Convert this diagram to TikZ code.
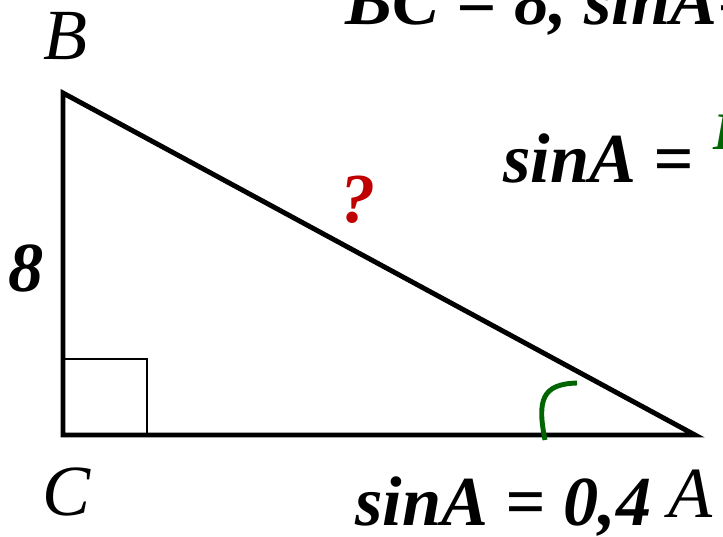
\documentclass[tikz,border=0pt]{standalone}
\usepackage{fontspec}
\setmainfont{Liberation Serif}
\usepackage{tikz}
\usetikzlibrary{positioning, calc}
\definecolor{qred}{HTML}{C00000}
\definecolor{anglegreen}{HTML}{006400}
\tikzset{
  % Triangle sides
  side/.style={line width=2.8pt, line join=miter, line cap=butt},
  % Vertex letters
  vertex/.style={font=\fontsize{41}{44}\selectfont\itshape, inner sep=0pt},
  % Formula texts
  formula/.style={font=\fontsize{40}{44}\selectfont\bfseries\itshape, inner sep=0pt, anchor=base west},
  % Angle mark
  anglemark/.style={draw=anglegreen, line width=2.8pt},
}

\begin{document}
\begin{tikzpicture}[x=0.02cm, y=-0.02cm]

  \useasboundingbox (0,0) rectangle (723,537);
  \clip (0,0) rectangle (723,537);

  % Vertices
  \coordinate (C) at (63, 435);
  \coordinate (B) at (63, 93);
  \coordinate (A) at (695, 435);

  % Triangle
  \draw[side] (B) -- (C) -- (A) -- cycle;

  % Right angle
  \draw[line width=1.1pt] ($(C)+(0,-76)$) -| ($(C)+(84,0)$);

  % Angle at A
  \draw[anglemark] (545, 440) .. controls (537, 400) and (542, 384) .. (577, 383);

  % Vertex labels
  \node[vertex] (lab-B) at (65, 36) {B};
  \node[vertex] (lab-C) at (67, 492) {C};
  \node[vertex] (lab-A) at (690, 494) {A};

  % Side labels
  \node[font=\fontsize{40}{44}\selectfont\bfseries\itshape, inner sep=0pt] (lab-8) at (26, 268) {8};
  \node[font=\fontsize{40}{44}\selectfont\bfseries\itshape, text=qred, inner sep=0pt] (lab-q) at (358, 200) {?};

  % Formulas
  \node[formula] (given) at (345, 25) {BC = 8, sinA=};
  \node[formula] (sin-def) at (503, 182) {sinA = };
  \node[formula, text=anglegreen, font=\fontsize{30}{34}\selectfont\bfseries\itshape] (sin-num) at (713, 150) {BC};
  \node[formula] (sin-val) at (355, 525) {sinA = 0,4};

\end{tikzpicture}
\end{document}
